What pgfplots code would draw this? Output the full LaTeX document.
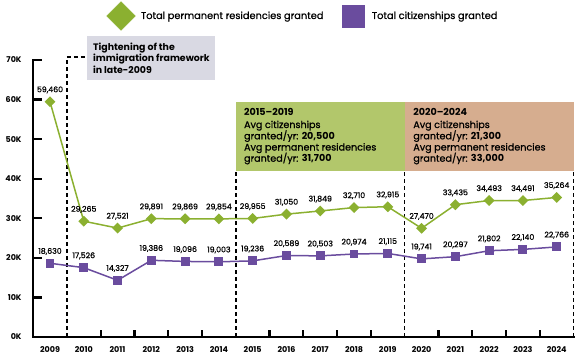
\documentclass[border=0pt]{standalone}
\usepackage{pgfplots}
\pgfplotsset{compat=1.18}
\usepackage{pgfplotstable}
\usepackage{fontspec}
\setmainfont{Poppins}
\newfontfamily\pmed{Poppins}[FakeBold=0.8]
\definecolor{pgreen}{RGB}{139,176,48}
\definecolor{ppurple}{RGB}{106,76,158}
\definecolor{boxgreen}{RGB}{178,199,107}
\definecolor{boxorange}{RGB}{214,173,143}
\definecolor{boxgray}{RGB}{217,217,227}

\pgfplotstableread{
year val lab
2009 59460 59,460
2010 29265 29,265
2011 27521 27,521
2012 29891 29,891
2013 29869 29,869
2014 29854 29,854
2015 29955 29,955
2016 31050 31,050
2017 31849 31,849
2018 32710 32,710
2019 32915 32,915
2020 27470 27,470
2021 33435 33,435
2022 34493 34,493
2023 34491 34,491
2024 35264 35,264
}\prtable

\pgfplotstableread{
year val lab
2009 18630 18,630
2010 17526 17,526
2011 14327 14,327
2012 19386 19,386
2013 19096 19,096
2014 19003 19,003
2015 19236 19,236
2016 20589 20,589
2017 20503 20,503
2018 20974 20,974
2019 21115 21,115
2020 19741 19,741
2021 20297 20,297
2022 21802 21,802
2023 22140 22,140
2024 22766 22,766
}\cttable

\newcommand{\boxfont}{\fontsize{9.6}{10}\selectfont}
\tikzset{dashln/.style={black, line width=1.6pt, dash pattern=on 4pt off 3pt}}

\begin{document}
\begin{tikzpicture}
\path[use as bounding box] (0,0) rectangle (581pt,356pt);
\begin{axis}[
  at={(33.1pt,19pt)}, anchor=south west,
  width=540.5pt, height=277pt, scale only axis,
  xmin=2008.5, xmax=2024.5, ymin=0, ymax=70000,
  axis x line*=bottom, axis y line*=left,
  axis line style={line width=2.2pt, black, -},
  scaled y ticks=false,
  xtick={2009,2010,2011,2012,2013,2014,2015,2016,2017,2018,2019,2020,2021,2022,2023,2024},
  xticklabels={2009,2010,2011,2012,2013,2014,2015,2016,2017,2018,2019,2020,2021,2022,2023,2024},
  ytick={0,10000,20000,30000,40000,50000,60000,70000},
  yticklabels={0K,10K,20K,30K,40K,50K,60K,70K},
  major tick length=0pt,
  tick align=inside,
  ticklabel style={font=\bfseries\fontsize{8}{9}\selectfont},
  yticklabel style={xshift=-8pt},
  xticklabel style={yshift=-6pt},
  clip=false,
  legend style={draw=none, fill=none, legend columns=2,
    at={(axis cs:2010.58,81117)}, anchor=west,
    font=\pmed\fontsize{9.8}{10}\selectfont,
    /tikz/every even column/.append style={column sep=17pt}},
  legend cell align=left,
]
% boxes
\fill[boxgray] (axis cs:2010.1,64944) rectangle (axis cs:2013.88,76063);
\fill[boxgreen] (axis cs:2014.5,42000) rectangle (axis cs:2019.5,59300);
\fill[boxorange] (axis cs:2019.5,42000) rectangle (axis cs:2024.5,59300);
% dashed lines
\draw[dashln] (axis cs:2009.5,0) -- (axis cs:2009.5,70756) -- (axis cs:2010.1,70756);
\draw[dashln] (axis cs:2014.5,0) -- (axis cs:2014.5,42000);
\draw[dashln] (axis cs:2019.5,0) -- (axis cs:2019.5,42000);
\draw[dashln] (axis cs:2024.5,0) -- (axis cs:2024.5,42000);
% box texts
\node[anchor=base west, inner sep=0, font=\fontsize{9.4}{10}\selectfont\bfseries] at (axis cs:2010.27,72525) {Tightening of the};
\node[anchor=base west, inner sep=0, font=\fontsize{9.4}{10}\selectfont\bfseries] at (axis cs:2010.27,69620) {immigration framework};
\node[anchor=base west, inner sep=0, font=\fontsize{9.4}{10}\selectfont\bfseries] at (axis cs:2010.27,66713) {in late-2009};

\node[anchor=base west, inner sep=0, font=\boxfont\bfseries] at (axis cs:2014.74,55923) {2015–2019};
\node[anchor=base west, inner sep=0, font=\boxfont\pmed] at (axis cs:2014.74,52814) {Avg citizenships};
\node[anchor=base west, inner sep=0, font=\boxfont\pmed] at (axis cs:2014.74,49959) {granted/yr: {\normalfont\bfseries 20,500}};
\node[anchor=base west, inner sep=0, font=\boxfont\pmed] at (axis cs:2014.74,47129) {Avg permanent residencies};
\node[anchor=base west, inner sep=0, font=\boxfont\pmed] at (axis cs:2014.74,44298) {granted/yr: {\normalfont\bfseries 31,700}};

\node[anchor=base west, inner sep=0, font=\boxfont\bfseries] at (axis cs:2019.75,55923) {2020–2024};
\node[anchor=base west, inner sep=0, font=\boxfont\pmed] at (axis cs:2019.75,52814) {Avg citizenships};
\node[anchor=base west, inner sep=0, font=\boxfont\pmed] at (axis cs:2019.75,49959) {granted/yr: {\normalfont\bfseries 21,300}};
\node[anchor=base west, inner sep=0, font=\boxfont\pmed] at (axis cs:2019.75,47129) {Avg permanent residencies};
\node[anchor=base west, inner sep=0, font=\boxfont\pmed] at (axis cs:2019.75,44298) {granted/yr: {\normalfont\bfseries 33,000}};

% series
\addplot[pgreen, line width=1.5pt, mark=square*, mark size=3.1pt, mark options={rotate=45},
  point meta=explicit symbolic, nodes near coords={\pgfplotspointmeta},
  every node near coord/.append style={text=black, font=\pmed\fontsize{7.8}{8}\selectfont, anchor=base, yshift=9.5pt, inner sep=0},
  forget plot] table[x=year, y=val, meta=lab] {\prtable};
\addplot[ppurple, line width=1.5pt, mark=square*, mark size=3.7pt,
  point meta=explicit symbolic, nodes near coords={\pgfplotspointmeta},
  every node near coord/.append style={text=black, font=\pmed\fontsize{7.8}{8}\selectfont, anchor=base, yshift=9.5pt, inner sep=0},
  forget plot] table[x=year, y=val, meta=lab] {\cttable};
% legend
\addlegendimage{legend image code/.code={\fill[pgreen] (0pt,0pt) -- (14.3pt,14.3pt) -- (28.6pt,0pt) -- (14.3pt,-14.3pt) -- cycle; \path (32pt,0pt);}}
\addlegendentry{Total permanent residencies granted}
\addlegendimage{legend image code/.code={\fill[ppurple] (0pt,-11pt) rectangle (22pt,11pt); \path (27pt,0pt);}}
\addlegendentry{Total citizenships granted}
\end{axis}
% axis frame and ticks as filled shapes, on top
\fill[black] (32pt,17.9pt) rectangle (34.2pt,297.1pt);
\fill[black] (32pt,17.9pt) rectangle (574.7pt,20.1pt);
\foreach \yy in {58.571,98.143,137.714,177.286,216.857,256.429,296}
  {\fill[black] (32pt,\yy pt-1.1pt) rectangle (42.1pt,\yy pt+1.1pt);}
\foreach \xx in {100.66,134.44,168.23,202.01,269.57,303.35,337.13,370.91,438.48,472.26,506.04,539.82}
  {\fill[black] (\xx pt-1.1pt,19pt) rectangle (\xx pt+1.1pt,26pt);}
\end{tikzpicture}
\end{document}
